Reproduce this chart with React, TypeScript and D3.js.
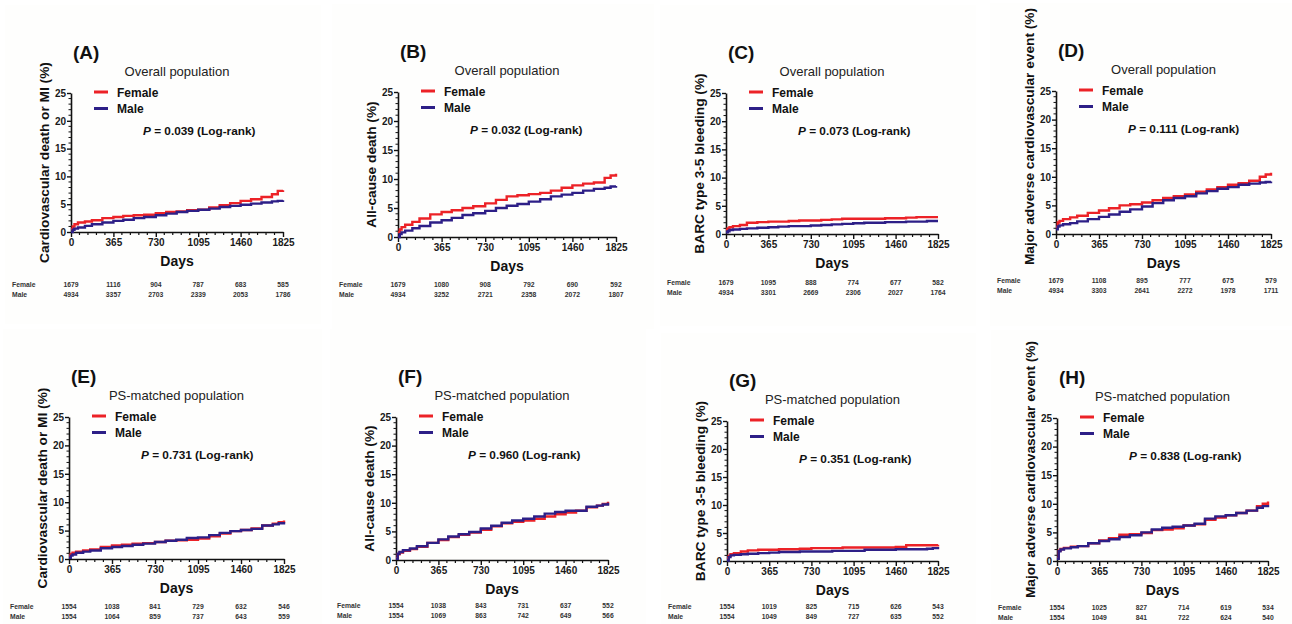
import React, { useRef, useEffect } from "react";
import * as d3 from "d3";

const W = 1292;
const H = 624;
const RED = "#ec2227";
const BLUE = "#2d1f87";
const FONT = "Arial, 'Liberation Sans', Helvetica, sans-serif";

// follow-up days at which the KM estimates were read
const days = [0, 15, 30, 60, 120, 180, 270, 365, 450, 540, 630, 730, 820, 910, 1000, 1095, 1190, 1280, 1370, 1460, 1550, 1640, 1730, 1780, 1825];
const xTicks = [0, 365, 730, 1095, 1460, 1825];
const yTicks = [0, 5, 10, 15, 20, 25];
const groups = ["Female", "Male"];

const panelIds = ["A", "B", "C", "D", "E", "F", "G", "H"];
const subtitles = ["Overall population", "Overall population", "Overall population", "Overall population",
  "PS-matched population", "PS-matched population", "PS-matched population", "PS-matched population"];
const yLabels = ["Cardiovascular death or MI (%)", "All-cause death (%)", "BARC type 3-5 bleeding (%)", "Major adverse cardiovascular event (%)",
  "Cardiovascular death or MI (%)", "All-cause death (%)", "BARC type 3-5 bleeding (%)", "Major adverse cardiovascular event (%)"];
const pValues = ["0.039", "0.032", "0.073", "0.111", "0.731", "0.960", "0.351", "0.838"];

// cumulative incidence (%)
const femaleA = [0.5, 1.0, 1.4, 1.7, 1.9, 2.1, 2.5, 2.7, 2.9, 3.0, 3.1, 3.4, 3.6, 3.7, 3.9, 4.0, 4.4, 4.8, 5.2, 5.6, 5.9, 6.3, 6.8, 7.4, 7.5];
const maleA = [0.0, 0.4, 0.6, 0.8, 1.1, 1.4, 1.7, 2.0, 2.2, 2.5, 2.7, 3.0, 3.3, 3.6, 3.8, 4.0, 4.2, 4.5, 4.7, 4.9, 5.1, 5.3, 5.5, 5.6, 5.7];
const femaleB = [0.8, 1.3, 1.7, 2.1, 2.6, 3.2, 3.9, 4.3, 4.6, 5.0, 5.3, 5.8, 6.4, 7.0, 7.2, 7.4, 7.6, 8.0, 8.5, 8.9, 9.2, 9.4, 10.2, 10.6, 10.9];
const maleB = [0.0, 0.5, 0.8, 1.1, 1.5, 1.9, 2.5, 2.9, 3.3, 3.8, 4.1, 4.5, 5.0, 5.4, 5.7, 6.1, 6.5, 7.0, 7.3, 7.6, 8.0, 8.3, 8.5, 8.7, 8.8];
const femaleC = [0.8, 1.0, 1.2, 1.4, 1.6, 2.0, 2.1, 2.2, 2.2, 2.3, 2.4, 2.4, 2.5, 2.6, 2.7, 2.7, 2.7, 2.7, 2.8, 2.8, 2.9, 3.0, 3.0, 3.0, 3.0];
const maleC = [0.3, 0.5, 0.7, 0.8, 0.9, 1.0, 1.1, 1.2, 1.3, 1.4, 1.4, 1.5, 1.6, 1.7, 1.8, 1.9, 2.0, 2.0, 2.1, 2.1, 2.2, 2.2, 2.3, 2.3, 2.3];
const femaleD = [1.2, 2.0, 2.3, 2.6, 2.9, 3.2, 3.7, 4.1, 4.5, 5.0, 5.2, 5.5, 5.9, 6.3, 6.6, 6.9, 7.4, 7.8, 8.2, 8.6, 8.9, 9.3, 10.0, 10.4, 10.7];
const maleD = [0.8, 1.3, 1.5, 1.7, 1.9, 2.2, 2.6, 3.0, 3.4, 3.9, 4.3, 4.8, 5.4, 5.9, 6.3, 6.6, 7.1, 7.5, 7.9, 8.2, 8.6, 8.8, 9.0, 9.1, 9.2];
const femaleE = [0.6, 0.9, 1.1, 1.3, 1.5, 1.7, 2.1, 2.4, 2.5, 2.7, 2.8, 3.0, 3.2, 3.3, 3.4, 3.6, 4.0, 4.5, 4.9, 5.1, 5.4, 5.9, 6.2, 6.5, 6.8];
const maleE = [0.2, 0.6, 0.8, 1.1, 1.3, 1.5, 1.9, 2.1, 2.3, 2.5, 2.7, 3.0, 3.2, 3.4, 3.7, 3.8, 4.2, 4.6, 4.9, 5.1, 5.3, 5.9, 6.1, 6.3, 6.5];
const femaleF = [0.3, 1.0, 1.3, 1.6, 1.9, 2.3, 3.0, 3.5, 4.0, 4.4, 4.8, 5.3, 5.9, 6.4, 6.7, 6.9, 7.2, 7.6, 8.0, 8.3, 8.6, 9.2, 9.5, 9.8, 10.2];
const maleF = [0.2, 1.1, 1.4, 1.7, 2.0, 2.4, 3.0, 3.6, 4.1, 4.5, 4.9, 5.5, 6.0, 6.5, 6.9, 7.2, 7.6, 8.1, 8.4, 8.6, 8.6, 9.3, 9.5, 9.7, 10.0];
const femaleG = [0.5, 0.9, 1.2, 1.4, 1.7, 1.9, 2.0, 2.0, 2.1, 2.1, 2.2, 2.3, 2.3, 2.3, 2.4, 2.4, 2.4, 2.4, 2.4, 2.5, 2.8, 2.8, 2.8, 2.8, 2.9];
const maleG = [0.1, 0.7, 1.0, 1.1, 1.2, 1.3, 1.4, 1.5, 1.6, 1.6, 1.7, 1.7, 1.7, 1.8, 1.8, 1.8, 2.0, 2.0, 2.0, 2.1, 2.1, 2.1, 2.2, 2.3, 2.5];
const femaleH = [0.5, 1.8, 2.1, 2.3, 2.5, 2.6, 3.1, 3.6, 4.0, 4.6, 4.7, 4.9, 5.4, 5.5, 5.7, 6.2, 6.4, 7.2, 7.6, 8.0, 8.4, 8.8, 9.6, 10.0, 10.4];
const maleH = [0.4, 1.7, 2.0, 2.2, 2.4, 2.6, 3.1, 3.5, 3.8, 4.2, 4.5, 5.0, 5.5, 5.8, 6.0, 6.2, 6.5, 7.4, 7.8, 8.0, 8.4, 8.8, 9.3, 9.6, 9.8];

// numbers at risk at 0, 365, 730, 1095, 1460, 1825 days
const riskFemaleA = [1679, 1116, 904, 787, 683, 585];
const riskMaleA = [4934, 3357, 2703, 2339, 2053, 1786];
const riskFemaleB = [1679, 1080, 908, 792, 690, 592];
const riskMaleB = [4934, 3252, 2721, 2358, 2072, 1807];
const riskFemaleC = [1679, 1095, 888, 774, 677, 582];
const riskMaleC = [4934, 3301, 2669, 2306, 2027, 1764];
const riskFemaleD = [1679, 1108, 895, 777, 675, 579];
const riskMaleD = [4934, 3303, 2641, 2272, 1978, 1711];
const riskFemaleE = [1554, 1038, 841, 729, 632, 546];
const riskMaleE = [1554, 1064, 859, 737, 643, 559];
const riskFemaleF = [1554, 1038, 843, 731, 637, 552];
const riskMaleF = [1554, 1069, 863, 742, 649, 566];
const riskFemaleG = [1554, 1019, 825, 715, 626, 543];
const riskMaleG = [1554, 1049, 849, 727, 635, 552];
const riskFemaleH = [1554, 1025, 827, 714, 619, 534];
const riskMaleH = [1554, 1049, 841, 722, 624, 540];

const femaleSeries = [femaleA, femaleB, femaleC, femaleD, femaleE, femaleF, femaleG, femaleH];
const maleSeries = [maleA, maleB, maleC, maleD, maleE, maleF, maleG, maleH];
const riskFemale = [riskFemaleA, riskFemaleB, riskFemaleC, riskFemaleD, riskFemaleE, riskFemaleF, riskFemaleG, riskFemaleH];
const riskMale = [riskMaleA, riskMaleB, riskMaleC, riskMaleD, riskMaleE, riskMaleF, riskMaleG, riskMaleH];

// where each plot area sits on the page
const layout = [
  { x0: 71, x1: 283, yTop: 93, yBot: 232, labelDy: 0, tableY: 284 },
  { x0: 398, x1: 616, yTop: 92, yBot: 237, labelDy: 0, tableY: 284 },
  { x0: 726, x1: 938, yTop: 93, yBot: 234, labelDy: 0, tableY: 282 },
  { x0: 1056, x1: 1271, yTop: 91, yBot: 234, labelDy: -26, tableY: 280 },
  { x0: 69, x1: 284, yTop: 417, yBot: 559, labelDy: 0, tableY: 606 },
  { x0: 396, x1: 608, yTop: 417, yBot: 560, labelDy: 0, tableY: 605 },
  { x0: 727, x1: 938, yTop: 421, yBot: 561, labelDy: 0, tableY: 606 },
  { x0: 1057, x1: 1268, yTop: 418, yBot: 561, labelDy: -20, tableY: 607 },
];

const App = () => {
  const svgEl = useRef<SVGSVGElement>(null);

  useEffect(() => {
    const svg = d3.select(svgEl.current);
    svg.selectAll("*").remove();

    panelIds.forEach((id, i) => {
      const L = layout[i];
      const x = d3.scaleLinear().domain([0, 1825]).range([L.x0, L.x1]);
      const y = d3.scaleLinear().domain([0, 25]).range([L.yBot, L.yTop]);
      const g = svg.append("g").attr("font-family", FONT);
      const midX = (L.x0 + L.x1) / 2;
      const midY = (L.yTop + L.yBot) / 2;

      // barely visible panel background, like the pasted images
      g.append("rect")
        .attr("x", L.x0 - 66).attr("y", L.yTop - 88)
        .attr("width", L.x1 - L.x0 + 104).attr("height", L.yBot - L.yTop + 180)
        .attr("fill", "#fefefd");

      // minor ticks
      const minorX = d3.range(73, 1825, 73).filter(d => d % 365 !== 0);
      const minorY = d3.range(1, 25).filter(d => d % 5 !== 0);
      g.append("g").selectAll("line").data(minorX).enter().append("line")
        .attr("x1", d => x(d)).attr("x2", d => x(d))
        .attr("y1", L.yBot).attr("y2", L.yBot + 3)
        .attr("stroke", "#111").attr("stroke-width", 1.2);
      g.append("g").selectAll("line").data(minorY).enter().append("line")
        .attr("x1", L.x0 - 2.5).attr("x2", L.x0)
        .attr("y1", d => y(d)).attr("y2", d => y(d))
        .attr("stroke", "#111").attr("stroke-width", 1);

      const xAxis = d3.axisBottom(x).tickValues(xTicks).tickFormat(d3.format("d")).tickSize(5).tickSizeOuter(0).tickPadding(2);
      const yAxis = d3.axisLeft(y).tickValues(yTicks).tickFormat(d3.format("d")).tickSize(4).tickSizeOuter(0).tickPadding(1);
      const gx = g.append("g").attr("transform", `translate(0,${L.yBot})`).call(xAxis);
      const gy = g.append("g").attr("transform", `translate(${L.x0},0)`).call(yAxis);
      [gx, gy].forEach(a => {
        a.attr("font-family", FONT).attr("font-size", 10).attr("font-weight", "bold");
        a.select(".domain").attr("stroke", "#111").attr("stroke-width", 1.6);
        a.selectAll(".tick line").attr("stroke", "#111").attr("stroke-width", 1.4);
        a.selectAll(".tick text").attr("fill", "#1a1a1a");
      });

      // curves
      const line = d3.line<number>()
        .x((_, j) => x(days[j]))
        .y(v => y(v))
        .curve(d3.curveStepAfter);
      [femaleSeries[i], maleSeries[i]].forEach((s, k) => {
        g.append("path").attr("d", line(s))
          .attr("fill", "none")
          .attr("stroke", k === 0 ? RED : BLUE)
          .attr("stroke-width", 2.4);
      });

      // panel letter and subtitle
      g.append("text").attr("x", L.x0 + 2).attr("y", L.yTop - 34)
        .attr("font-size", 19).attr("font-weight", "bold").attr("fill", "#111")
        .text(`(${id})`);
      g.append("text").attr("x", midX).attr("y", L.yTop - 17)
        .attr("text-anchor", "middle").attr("font-size", 13).attr("fill", "#222")
        .text(subtitles[i]);

      // legend
      groups.forEach((name, k) => {
        const ly = L.yTop - 1 + k * 16.5;
        g.append("line").attr("x1", L.x0 + 23).attr("x2", L.x0 + 37)
          .attr("y1", ly).attr("y2", ly)
          .attr("stroke", k === 0 ? RED : BLUE).attr("stroke-width", 3);
        g.append("text").attr("x", L.x0 + 46).attr("y", ly + 4.5)
          .attr("font-size", 12).attr("font-weight", "bold").attr("fill", "#111")
          .text(name);
      });

      // p value
      const pt = g.append("text").attr("x", L.x0 + 72).attr("y", L.yTop + 42)
        .attr("font-size", 11.8).attr("font-weight", "bold").attr("fill", "#111");
      pt.append("tspan").attr("font-style", "italic").text("P");
      pt.append("tspan").text(` = ${pValues[i]} (Log-rank)`);

      // axis titles
      g.append("text").attr("x", midX).attr("y", L.yBot + 34)
        .attr("text-anchor", "middle").attr("font-size", 14).attr("font-weight", "bold").attr("fill", "#111")
        .text("Days");
      g.append("text")
        .attr("transform", `translate(${L.x0 - 22},${midY + L.labelDy}) rotate(-90)`)
        .attr("text-anchor", "middle").attr("font-size", 13.7).attr("font-weight", "bold").attr("fill", "#111")
        .text(yLabels[i]);

      // numbers at risk
      [riskFemale[i], riskMale[i]].forEach((row, k) => {
        const ry = L.tableY + k * 10 + 2.5;
        g.append("text").attr("x", L.x0 - 59).attr("y", ry)
          .attr("font-size", 6.8).attr("font-weight", "bold").attr("fill", "#333")
          .text(groups[k]);
        g.append("g").selectAll("text").data(row).enter().append("text")
          .attr("x", (_, j) => x(xTicks[j])).attr("y", ry)
          .attr("text-anchor", "middle")
          .attr("font-size", 6.8).attr("font-weight", "bold").attr("fill", "#333")
          .text(d => d);
      });
    });
  }, []);

  return (
    <div style={{ position: "absolute", left: 0, top: 0, width: W, height: H, background: "#fff" }}>
      <svg ref={svgEl} width={W} height={H} viewBox={`0 0 ${W} ${H}`} />
    </div>
  );
};

export default App;
